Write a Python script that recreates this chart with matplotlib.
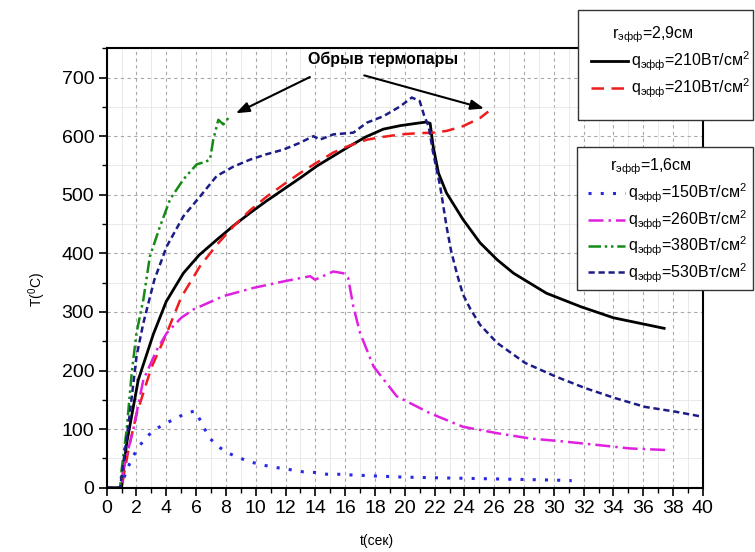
# -*- coding: utf-8 -*-
"""Thermocouple temperature vs time for two effective radii."""

import matplotlib
matplotlib.use("Agg")
import matplotlib.pyplot as plt
from matplotlib.patches import Rectangle
from matplotlib.ticker import MultipleLocator

plt.rcParams.update({
    "font.family": ["Liberation Sans", "DejaVu Sans"],
    "mathtext.fontset": "custom",
    "mathtext.rm": "Liberation Sans",
    "mathtext.it": "Liberation Sans",
    "mathtext.default": "regular",
})

# ── Data (t, sec ; T, °C) ─────────────────────────────────
# r_eff = 2.9 cm, q = 210 W/cm2 (solid)
t_black = [0, 1.0, 1.34, 2.12, 3.13, 4.0, 5.14, 6.2, 7.38, 8.5, 9.62, 10.7, 11.85,
           13.0, 14.1, 15.2, 16.3, 17.4, 18.56, 19.7, 20.8, 21.4, 21.7, 21.9, 22.26,
           22.8, 23.9, 25.05, 26.2, 27.3, 29.5, 31.8, 34.0, 37.4]
T_black = [0, 0, 76, 184, 262, 318, 366, 397, 423, 447, 469, 489, 509,
           529, 549, 566, 583, 599, 612, 618, 622, 624, 622, 583, 537,
           503, 458, 418, 389, 366, 332, 309, 290, 272]

# r_eff = 2.9 cm, q = 210 W/cm2 (dashed)
t_red = [0, 1.0, 1.5, 2.0, 3.0, 4.0, 5.0, 6.26, 7.4, 8.5, 9.6, 10.74, 11.9, 12.97,
         14.1, 15.2, 16.3, 17.45, 18.6, 19.7, 20.8, 21.9, 22.8, 23.9, 25.05, 25.6]
T_red = [0, 0, 70, 125, 205, 262, 325, 378, 415, 446, 473, 497, 518, 537,
         555, 572, 584, 594, 599, 603, 605, 606, 609, 617, 631, 642]

# r_eff = 1.6 cm
t_q150 = [0, 0.9, 1.45, 1.78, 2.19, 2.68, 3.3, 3.96, 4.63, 5.3, 5.93, 6.26, 6.6,
          6.93, 7.49, 8.16, 8.9, 9.62, 10.3, 10.96, 11.74, 12.5, 13.2, 13.98,
          14.76, 15.5, 16.2, 18, 20, 22, 24, 26, 28, 30, 31.2]
T_q150 = [0, 0, 36, 54, 71, 87, 100, 110, 118, 127, 131, 116, 99,
          84, 70, 59, 51, 44, 40, 36, 33, 30, 27, 26,
          23, 23, 22, 20, 18, 17, 16, 15, 14, 13, 12]

t_q260 = [0, 1.0, 1.1, 1.78, 2.46, 3.36, 4.03, 5.0, 5.8, 7.83, 9.84, 11.85, 13.65,
          13.98, 15.2, 15.88, 16.2, 16.55, 17.0, 17.9, 19.46, 21.7, 23.9, 26.2,
          28.4, 30.6, 32.9, 35.1, 37.8]
T_q260 = [0, 0, 30, 99, 184, 235, 264, 290, 304, 327, 341, 352, 361,
          355, 369, 366, 358, 309, 264, 207, 156, 127, 104, 93,
          84, 79, 73, 67, 64]

t_q380 = [0, 0.9, 1.0, 1.34, 1.68, 2.0, 2.46, 2.9, 3.58, 4.25, 5.14, 6.04, 6.6,
          6.93, 7.15, 7.49, 7.83, 8.16]
T_q380 = [0, 0, 30, 99, 196, 264, 321, 395, 446, 492, 526, 552, 556,
          560, 594, 628, 620, 631]

t_q530 = [0, 0.9, 1.0, 1.56, 2.0, 2.46, 3.2, 4.03, 5.14, 6.26, 7.38, 8.5, 9.62,
          10.7, 11.85, 12.9, 13.87, 14.3, 15.2, 16.55, 17.45, 18.56, 19.7, 20.47,
          21.0, 21.3, 21.6, 21.9, 22.37, 22.8, 23.1, 23.5, 23.9, 24.4, 25.05, 26.2,
          28.07, 30.1, 32.1, 34.1, 36.1, 38.1, 40.0]
T_q530 = [0, 0, 19, 128, 224, 281, 355, 412, 463, 497, 532, 548, 560,
          569, 577, 588, 600, 594, 603, 606, 623, 634, 651, 666,
          660, 635, 617, 572, 515, 446, 405, 365, 330, 305, 278, 247,
          213, 190, 170, 153, 138, 130, 121]

lbl_q210 = r"q$_{эфф}$=210Вт/см$^2$"
lbl_q150 = r"q$_{эфф}$=150Вт/см$^2$"
lbl_q260 = r"q$_{эфф}$=260Вт/см$^2$"
lbl_q380 = r"q$_{эфф}$=380Вт/см$^2$"
lbl_q530 = r"q$_{эфф}$=530Вт/см$^2$"
title_r29 = r"r$_{эфф}$=2,9см"
title_r16 = r"r$_{эфф}$=1,6см"

# ── Figure ────────────────────────────────────────────────
fig = plt.figure(figsize=(7.55, 5.52), dpi=100, facecolor="white")
ax = fig.add_axes([0.1413, 0.1165, 0.7897, 0.796])

l_blk, = ax.plot(t_black, T_black, color="black", lw=2.0, label=lbl_q210)
l_red, = ax.plot(t_red, T_red, color="#ee1c1c", lw=1.8, ls=(0, (5, 3)), label=lbl_q210)
l_150, = ax.plot(t_q150, T_q150, color="#2a2ae6", lw=2.2, ls=(0, (1, 3)), label=lbl_q150)
l_260, = ax.plot(t_q260, T_q260, color="#e020e0", lw=1.8, ls=(0, (6, 2, 1, 2)), label=lbl_q260)
l_380, = ax.plot(t_q380, T_q380, color="#168a16", lw=1.8,
                 ls=(0, (5, 1.5, 1, 1.5, 1, 1.5)), label=lbl_q380)
l_530, = ax.plot(t_q530, T_q530, color="#1c1c86", lw=1.8, ls=(0, (2.5, 1.5)), label=lbl_q530)

# ── Axes / grid ───────────────────────────────────────────
ax.set_xlim(0, 40)
ax.set_ylim(0, 750)
ax.xaxis.set_major_locator(MultipleLocator(2))
ax.xaxis.set_minor_locator(MultipleLocator(1))
ax.yaxis.set_major_locator(MultipleLocator(100))
ax.yaxis.set_minor_locator(MultipleLocator(50))
ax.set_yticks([0, 100, 200, 300, 400, 500, 600, 700])

ax.grid(which="major", ls=(0, (3, 3)), color="#a8a8a8", lw=0.8)
ax.grid(which="minor", ls="-", color="#e6e6e6", lw=0.6)
ax.set_axisbelow(True)

ax.tick_params(which="major", direction="out", length=6, width=1.2, labelsize=14, pad=3)
ax.tick_params(which="minor", direction="out", length=3.5, width=1.0)
for s in ax.spines.values():
    s.set_linewidth(1.5)

ax.set_xlabel("t(сек)", fontsize=10)
ax.set_ylabel("T($^0$C)", fontsize=10)
ax.xaxis.set_label_coords(0.4535, -0.106)
ax.yaxis.set_label_coords(-0.098, 0.45)

# ── Annotation ────────────────────────────────────────────
ax.text(18.55, 731, "Обрыв термопары", ha="center", va="center",
        fontsize=11.5, fontweight="bold")
arrow = dict(arrowstyle="-|>,head_length=0.8,head_width=0.3", color="black", lw=1.5)
ax.annotate("", xy=(8.5, 637), xytext=(13.8, 703), arrowprops=arrow)
ax.annotate("", xy=(25.5, 646), xytext=(17.1, 705), arrowprops=arrow)

# ── Legends (boxes drawn separately to match the original layout) ──
W, H = 755.0, 552.0
for x0, y0, x1, y1 in [(578, 10, 753, 120), (577, 147, 753, 290)]:
    fig.patches.append(Rectangle((x0 / W, 1 - y1 / H), (x1 - x0) / W, (y1 - y0) / H,
                                 transform=fig.transFigure, facecolor="white",
                                 edgecolor="#333333", lw=1.0, zorder=3))

leg_kw = dict(loc="upper left", bbox_transform=fig.transFigure, frameon=False,
              fontsize=11.5, handlelength=2.3, handletextpad=0.2, borderpad=0,
              borderaxespad=0, labelspacing=0.2)
leg1 = fig.legend(handles=[l_blk, l_red], bbox_to_anchor=(591 / W, 1 - 50 / H), **leg_kw)
leg2 = fig.legend(handles=[l_150, l_260, l_380, l_530],
                  bbox_to_anchor=(588 / W, 1 - 182 / H), **leg_kw)
for lg in (leg1, leg2):
    lg.set_zorder(4)

fig.text(612 / W, 1 - 35 / H, title_r29, fontsize=11.5, ha="left", va="center", zorder=4)
fig.text(610 / W, 1 - 167 / H, title_r16, fontsize=11.5, ha="left", va="center", zorder=4)

fig.savefig("out.png", dpi=100, facecolor="white")
